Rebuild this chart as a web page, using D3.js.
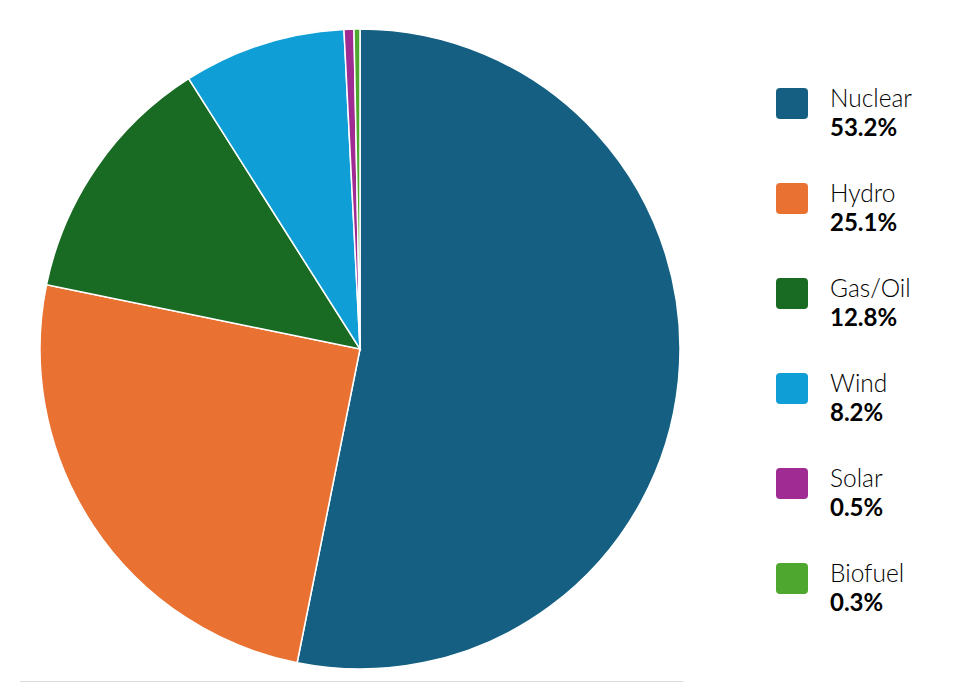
<!DOCTYPE html>
<html>
<head>
<meta charset="utf-8">
<script src="https://cdn.jsdelivr.net/npm/d3@7"></script>
<style>
  body { margin: 0; background: #fff; }
  text { font-family: Lato, "Open Sans", sans-serif; }
</style>
</head>
<body>
<div id="chart"></div>
<script>
// data
var sources = ["Nuclear", "Hydro", "Gas/Oil", "Wind", "Solar", "Biofuel"];
var shares = [53.2, 25.1, 12.8, 8.2, 0.5, 0.3];
var colours = ["#156082", "#e97132", "#196b24", "#0f9ed5", "#a02b93", "#4ea72e"];

var width = 965, height = 700;
var cx = 360, cy = 349, radius = 320;

var svg = d3.select("#chart").append("svg")
	.attr("width", width)
	.attr("height", height);

var color = d3.scaleOrdinal().domain(sources).range(colours);

var rows = sources.map(function(s, i) { return {name: s, value: shares[i]}; });

var pie = d3.pie()
	.sort(null)
	.value(function(d) { return d.value; });

var arc = d3.arc().innerRadius(0).outerRadius(radius);

// baseline under the pie
svg.append("line")
	.attr("x1", 20).attr("x2", 683)
	.attr("y1", 681.5).attr("y2", 681.5)
	.style("stroke", "#d9d9d9")
	.style("stroke-width", 1);

var g = svg.append("g")
	.attr("transform", "translate(" + cx + "," + cy + ")");

g.selectAll("path")
	.data(pie(rows))
	.enter().append("path")
	.attr("d", arc)
	.style("fill", function(d) { return color(d.data.name); })
	.style("stroke", "#fff")
	.style("stroke-width", 1.5);

// legend
var legend = svg.selectAll(".legend")
	.data(rows)
	.enter().append("g")
	.attr("class", "legend")
	.attr("transform", function(d, i) { return "translate(776," + (88 + i * 95) + ")"; });

legend.append("rect")
	.attr("width", 32)
	.attr("height", 31)
	.attr("rx", 4)
	.style("fill", function(d) { return color(d.name); });

legend.append("text")
	.attr("x", 54)
	.attr("y", 19)
	.style("font-size", "24.5px")
	.style("font-weight", 300)
	.style("fill", "#000")
	.text(function(d) { return d.name; });

legend.append("text")
	.attr("x", 54)
	.attr("y", 48)
	.style("font-size", "24px")
	.style("font-weight", "bold")
	.style("fill", "#000")
	.text(function(d) { return d.value.toFixed(1) + "%"; });
</script>
</body>
</html>
